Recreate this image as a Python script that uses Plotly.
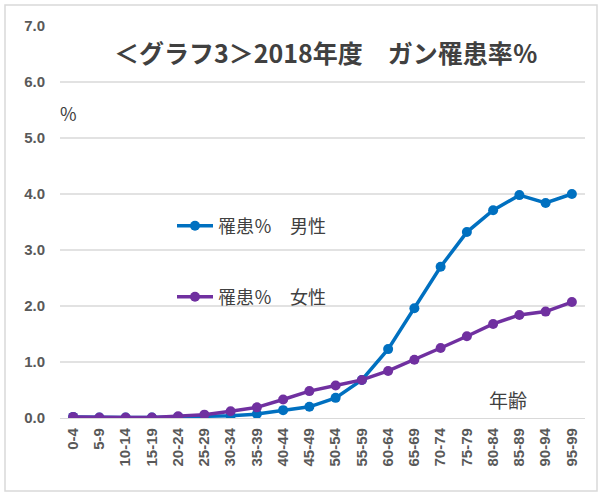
import plotly.graph_objects as go

age_groups = ["0-4", "5-9", "10-14", "15-19", "20-24", "25-29", "30-34", "35-39",
              "40-44", "45-49", "50-54", "55-59", "60-64", "65-69", "70-74", "75-79",
              "80-84", "85-89", "90-94", "95-99"]
male_rate = [0.02, 0.01, 0.01, 0.01, 0.02, 0.03, 0.04, 0.07, 0.14, 0.20, 0.36, 0.68,
             1.23, 1.96, 2.70, 3.32, 3.71, 3.98, 3.84, 4.00]
female_rate = [0.02, 0.01, 0.01, 0.01, 0.03, 0.06, 0.12, 0.19, 0.33, 0.48, 0.58, 0.68,
               0.84, 1.04, 1.25, 1.46, 1.68, 1.84, 1.90, 2.07]
y_ticks = [0, 1, 2, 3, 4, 5, 6, 7]
y_tick_text = ["0.0", "1.0", "2.0", "3.0", "4.0", "5.0", "6.0", "7.0"]

BLUE = "#0070C0"
PURPLE = "#7030A0"
TXT = "#595959"
GRID = "#D9D9D9"
JP = "Noto Sans CJK JP, Noto Sans, sans-serif"
NUMF = "Liberation Sans, Arial, sans-serif"

fig = go.Figure()
fig.add_trace(go.Scatter(
    x=age_groups, y=male_rate, mode="lines+markers", name="罹患％　男性",
    line=dict(color=BLUE, width=3.5), marker=dict(color=BLUE, size=10),
    legend="legend", showlegend=True))
fig.add_trace(go.Scatter(
    x=age_groups, y=female_rate, mode="lines+markers", name="罹患％　女性",
    line=dict(color=PURPLE, width=3.5), marker=dict(color=PURPLE, size=10),
    legend="legend2", showlegend=True))

# horizontal gridlines (none at the top value)
shapes = []
for v in y_ticks[1:-1]:
    shapes.append(dict(type="line", xref="paper", yref="y", x0=0, x1=1, y0=v, y1=v,
                       line=dict(color=GRID, width=1.3), layer="below"))
# outer chart border
shapes.append(dict(type="rect", xref="paper", yref="paper",
                   x0=(5 - 60) / 525, x1=(597 - 60) / 525,
                   y0=(418 - 491) / 392, y1=(418 - 5) / 392,
                   line=dict(color="#D9D9D9", width=1.5), fillcolor="rgba(0,0,0,0)",
                   layer="below"))

legend_common = dict(xanchor="left", yanchor="middle", bgcolor="rgba(0,0,0,0)",
                     font=dict(size=18, color="#404040", family=JP),
                     itemwidth=36, tracegroupgap=0)

fig.update_layout(
    width=600, height=496,
    margin=dict(l=60, r=15, t=26, b=78),
    paper_bgcolor="white", plot_bgcolor="white",
    font=dict(family=JP, color=TXT),
    showlegend=True,
    shapes=shapes,
    xaxis=dict(type="category", range=[-0.5, 19.5], showgrid=False,
               showline=True, linecolor=GRID, linewidth=1.3,
               tickangle=-90, ticks="", ticklen=0, ticklabelstandoff=3,
               tickfont=dict(family=NUMF, size=15, color=TXT, weight="bold")),
    yaxis=dict(range=[0, 7], tickvals=y_ticks, ticktext=y_tick_text,
               showgrid=False, zeroline=False, showline=False, ticks="",
               ticklabelstandoff=14,
               tickfont=dict(family=NUMF, size=15, color=TXT, weight="bold")),
    legend=dict(x=(172 - 60) / 525, y=(418 - 226) / 392, **legend_common),
    legend2=dict(x=(172 - 60) / 525, y=(418 - 297) / 392, **legend_common),
    annotations=[
        dict(text="＜グラフ3＞2018年度　ガン罹患率％", xref="paper", yref="paper",
             x=(326 - 60) / 525, y=(418 - 52) / 392, xanchor="center", yanchor="middle",
             showarrow=False, font=dict(size=25, color="#404040", family=JP, weight="bold")),
        dict(text="%", xref="paper", yref="paper",
             x=(68 - 60) / 525, y=(418 - 113) / 392, xanchor="center", yanchor="middle",
             showarrow=False, font=dict(size=18, color="#404040", family=JP)),
        dict(text="年齢", xref="paper", yref="paper",
             x=(508 - 60) / 525, y=(418 - 399) / 392, xanchor="center", yanchor="middle",
             showarrow=False, font=dict(size=19, color="#404040", family=JP)),
    ],
)

fig.write_html("out.html")
